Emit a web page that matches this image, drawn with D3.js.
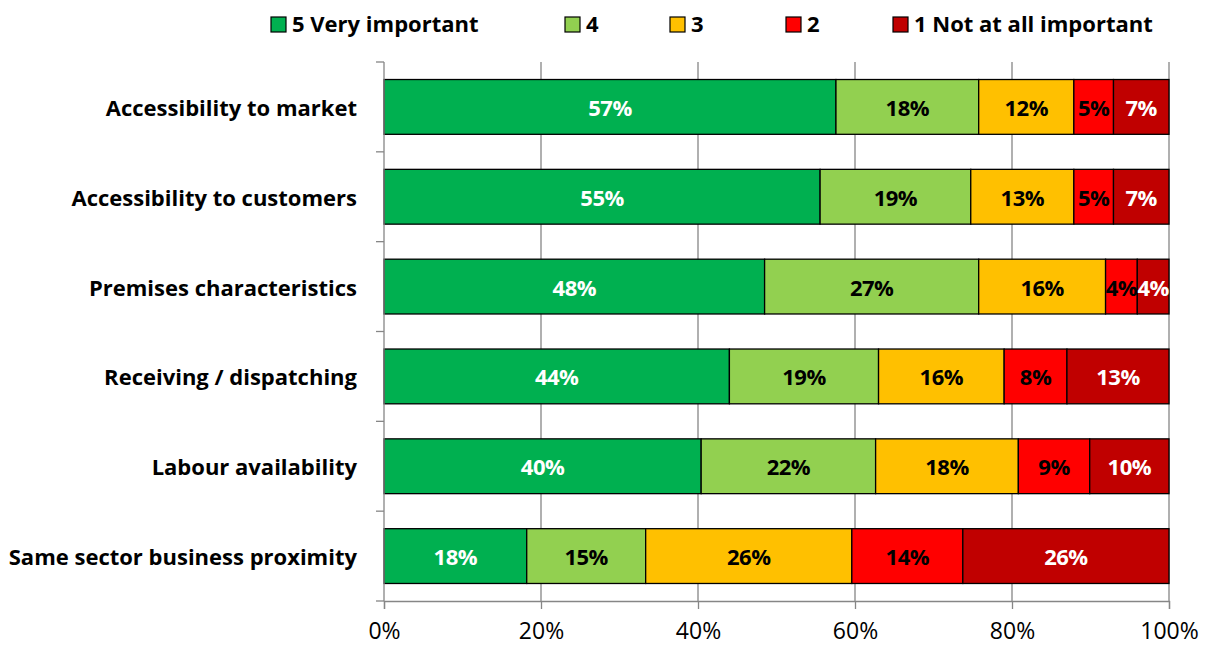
<!DOCTYPE html>
<html>
<head>
<meta charset="utf-8">
<script src="https://cdn.jsdelivr.net/npm/d3@7"></script>
<style>
  html, body { margin: 0; padding: 0; background: #fff; }
  svg { display: block; font-family: "Open Sans", Lato, sans-serif; }
</style>
</head>
<body>
<svg id="chart" width="1209" height="645"></svg>
<script>
// Survey factors (rows, top to bottom)
const factors = [
  "Accessibility to market",
  "Accessibility to customers",
  "Premises characteristics",
  "Receiving / dispatching",
  "Labour availability",
  "Same sector business proximity"
];

// Rating categories (legend order, left to right along each bar)
const ratings = ["5 Very important", "4", "3", "2", "1 Not at all important"];

// Share of respondents (%) per rating, one array per rating, in factor order
const rating5 = [57, 55, 48, 44, 40, 18];
const rating4 = [18, 19, 27, 19, 22, 15];
const rating3 = [12, 13, 16, 16, 18, 26];
const rating2 = [5, 5, 4, 8, 9, 14];
const rating1 = [7, 7, 4, 13, 10, 26];

// Axis tick labels
const xTicks = [0, 20, 40, 60, 80, 100];

const colors = ["#00B050", "#92D050", "#FFC000", "#FF0000", "#C00000"];
const labelColors = ["#fff", "#000", "#000", "#000", "#fff"];

const seriesValues = [rating5, rating4, rating3, rating2, rating1];

// Build rows and normalise to 100% stacked
const rows = factors.map((f, i) => {
  const row = { factor: f };
  ratings.forEach((r, k) => { row[r] = seriesValues[k][i]; });
  return row;
});

const stacked = d3.stack()
  .keys(ratings)
  .offset(d3.stackOffsetExpand)(rows);

const svg = d3.select("#chart");
const margin = { left: 384, right: 40, top: 62, bottom: 44 };
const W = 1209, H = 645;

const x = d3.scaleLinear().domain([0, 1]).range([margin.left, W - margin.right]);
const y = d3.scaleBand().domain(factors)
  .range([margin.top, H - margin.bottom])
  .paddingInner(0.39).paddingOuter(0.195);

const gridColor = "#868686";
const labelFont = 22;

// Vertical gridlines
svg.append("g")
  .selectAll("line")
  .data(xTicks.slice(1))
  .join("line")
  .attr("x1", d => x(d / 100)).attr("x2", d => x(d / 100))
  .attr("y1", margin.top).attr("y2", H - margin.bottom)
  .attr("stroke", gridColor).attr("stroke-width", 1.3);

// Bars
const layer = svg.append("g")
  .selectAll("g")
  .data(stacked)
  .join("g")
  .attr("fill", (d, i) => colors[i]);

layer.selectAll("rect")
  .data(d => d.map(v => ({ v, key: d.key })))
  .join("rect")
  .attr("x", d => x(d.v[0]))
  .attr("width", d => x(d.v[1]) - x(d.v[0]))
  .attr("y", d => y(d.v.data.factor))
  .attr("height", y.bandwidth())
  .attr("stroke", "#000")
  .attr("stroke-width", 1.3);

// Data labels
layer.each(function (s, i) {
  d3.select(this).selectAll("text")
    .data(s)
    .join("text")
    .attr("x", d => (x(d[0]) + x(d[1])) / 2)
    .attr("y", d => y(d.data.factor) + y.bandwidth() / 2 + 1)
    .attr("dy", "0.36em")
    .attr("text-anchor", "middle")
    .attr("fill", labelColors[i])
    .attr("font-weight", "bold")
    .attr("font-size", labelFont)
    .attr("letter-spacing", -0.5)
    .text(d => d.data[s.key] + "%");
});

// Left axis
const yAxis = svg.append("g")
  .attr("transform", `translate(${margin.left},0)`);
yAxis.append("line")
  .attr("x1", 0).attr("x2", 0)
  .attr("y1", margin.top).attr("y2", H - margin.bottom)
  .attr("stroke", gridColor).attr("stroke-width", 1.3);
const boundaries = factors.map(f => y(f) - y.step() * y.paddingInner() / 2);
boundaries.push(H - margin.bottom);
boundaries[0] = margin.top;
yAxis.selectAll("line.tick")
  .data(boundaries)
  .join("line")
  .attr("class", "tick")
  .attr("x1", -8).attr("x2", 0)
  .attr("y1", d => d).attr("y2", d => d)
  .attr("stroke", gridColor).attr("stroke-width", 1.3);
yAxis.selectAll("text")
  .data(factors)
  .join("text")
  .attr("x", -27)
  .attr("y", d => y(d) + y.bandwidth() / 2 + 1)
  .attr("dy", "0.36em")
  .attr("text-anchor", "end")
  .attr("font-weight", "bold")
  .attr("font-size", labelFont)
  .attr("fill", "#000")
  .text(d => d);

// Bottom axis
const xAxis = d3.axisBottom(x)
  .tickValues(xTicks.map(t => t / 100))
  .tickFormat(d => Math.round(d * 100) + "%")
  .tickSize(8)
  .tickPadding(14);
const gx = svg.append("g")
  .attr("transform", `translate(0,${H - margin.bottom})`)
  .call(xAxis);
gx.select(".domain").attr("stroke", gridColor).attr("stroke-width", 1.3);
gx.selectAll(".tick line").attr("stroke", gridColor).attr("stroke-width", 1.3);
gx.selectAll(".tick text")
  .attr("font-size", 23)
  .attr("font-family", "'Open Sans', Lato, sans-serif")
  .attr("fill", "#000");

// Legend
const legendX = [271, 565, 670, 786, 893];
const legend = svg.append("g");
ratings.forEach((r, i) => {
  legend.append("rect")
    .attr("x", legendX[i]).attr("y", 17)
    .attr("width", 15).attr("height", 15)
    .attr("fill", colors[i])
    .attr("stroke", "#000").attr("stroke-width", 1.2);
  legend.append("text")
    .attr("x", legendX[i] + 21).attr("y", 24.5)
    .attr("dy", "0.36em")
    .attr("font-weight", "bold")
    .attr("font-size", labelFont)
    .attr("fill", "#000")
    .text(r);
});
</script>
</body>
</html>
